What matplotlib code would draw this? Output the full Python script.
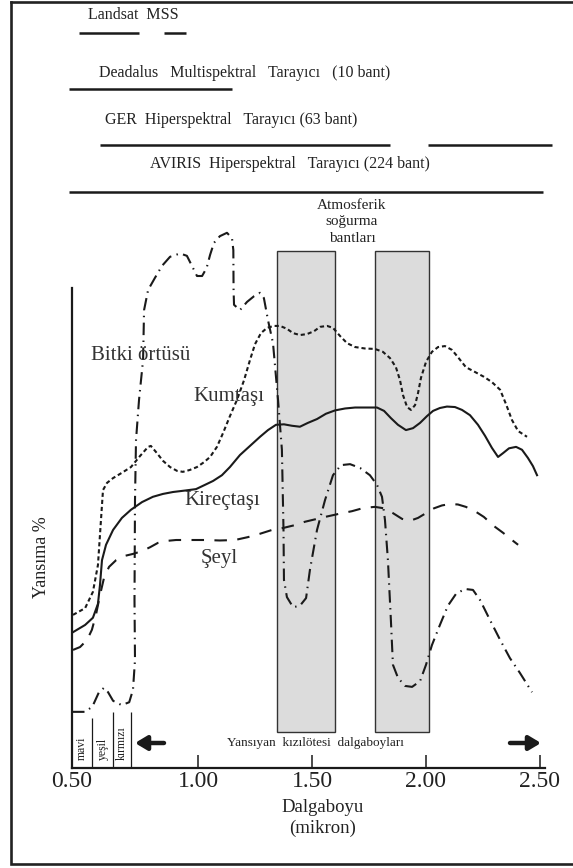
import matplotlib
matplotlib.use("Agg")
import matplotlib.pyplot as plt
import matplotlib.transforms as mtransforms
import numpy as np

plt.rcParams['font.family'] = ['Liberation Serif', 'DejaVu Serif']

# ---- data (wavelength in micron, reflectance in arbitrary %) ----
veg_wl = [0.500, 0.552, 0.581, 0.607, 0.627, 0.643, 0.663, 0.697, 0.727, 0.742,
          0.750, 0.748, 0.750, 0.754, 0.766, 0.782, 0.786, 0.802, 0.829, 0.857,
          0.889, 0.929, 0.956, 0.976, 0.996, 1.018, 1.038, 1.053, 1.070, 1.096,
          1.127, 1.149, 1.155, 1.156, 1.158, 1.184, 1.215, 1.246, 1.272, 1.289,
          1.307, 1.329, 1.351, 1.368, 1.375, 1.377, 1.390, 1.417, 1.447, 1.474,
          1.491, 1.522, 1.557, 1.592, 1.627, 1.667, 1.711, 1.754, 1.785, 1.807,
          1.820, 1.833, 1.846, 1.855, 1.877, 1.908, 1.939, 1.974, 2.000, 2.026,
          2.061, 2.096, 2.132, 2.171, 2.206, 2.237, 2.281, 2.325, 2.368, 2.412,
          2.465]
veg_r = [11.7, 11.7, 12.8, 15.8, 16.7, 15.8, 14.0, 13.1, 13.7, 16.3,
         22.5, 35.0, 55.8, 68.3, 76.7, 85.0, 95.4, 99.6, 102.1, 104.6,
         106.5, 107.2, 106.7, 104.6, 102.5, 102.5, 104.2, 106.9, 109.4, 110.8,
         111.5, 110.4, 107.9, 99.6, 96.5, 95.4, 97.1, 98.3, 99.0, 97.9,
         93.3, 88.5, 76.7, 66.3, 49.6, 39.2, 35.6, 33.5, 33.8, 35.4,
         41.3, 49.6, 55.8, 61.0, 63.1, 63.3, 62.5, 61.0, 59.0, 56.5,
         51.7, 43.3, 30.8, 21.5, 18.8, 17.1, 16.9, 18.1, 21.5, 25.6,
         29.8, 33.8, 36.3, 37.3, 37.1, 35.0, 30.8, 26.7, 22.9, 19.8,
         15.8]

sand_wl = [0.504, 0.552, 0.583, 0.603, 0.615, 0.623, 0.639, 0.663, 0.698, 0.734,
           0.770, 0.802, 0.813, 0.837, 0.861, 0.889, 0.917, 0.940, 0.968, 0.996,
           1.026, 1.053, 1.083, 1.110, 1.140, 1.171, 1.202, 1.228, 1.250, 1.276,
           1.303, 1.333, 1.360, 1.390, 1.417, 1.447, 1.478, 1.509, 1.535, 1.566,
           1.592, 1.623, 1.654, 1.689, 1.732, 1.776, 1.811, 1.842, 1.868, 1.886,
           1.899, 1.917, 1.934, 1.952, 1.965, 1.978, 2.000, 2.026, 2.053, 2.083,
           2.114, 2.140, 2.175, 2.215, 2.254, 2.289, 2.325, 2.351, 2.377, 2.404,
           2.443]
sand_r = [31.9, 33.3, 36.7, 42.3, 51.7, 57.9, 59.4, 60.4, 61.5, 62.7,
          65.0, 66.9, 67.1, 65.6, 64.0, 62.7, 61.9, 61.7, 62.1, 62.7,
          63.7, 64.8, 66.9, 69.8, 73.3, 76.7, 80.8, 85.0, 88.3, 90.6,
          91.7, 92.1, 92.1, 91.5, 90.6, 90.2, 90.4, 91.0, 91.9, 92.1,
          91.7, 90.0, 88.5, 87.7, 87.4, 87.3, 86.7, 85.4, 83.5, 80.8,
          77.7, 75.2, 74.6, 75.6, 78.1, 81.3, 84.6, 86.7, 87.7, 87.9,
          87.1, 85.6, 83.5, 82.5, 81.5, 80.4, 78.8, 75.8, 72.5, 70.2,
          69.0]

lime_wl = [0.504, 0.552, 0.583, 0.603, 0.611, 0.619, 0.635, 0.663, 0.698, 0.734,
           0.778, 0.821, 0.861, 0.901, 0.948, 0.992, 1.031, 1.066, 1.105, 1.140,
           1.184, 1.228, 1.272, 1.307, 1.342, 1.377, 1.412, 1.447, 1.482, 1.522,
           1.561, 1.601, 1.645, 1.689, 1.737, 1.785, 1.816, 1.846, 1.877, 1.912,
           1.943, 1.974, 2.004, 2.031, 2.061, 2.092, 2.127, 2.158, 2.193, 2.228,
           2.259, 2.289, 2.316, 2.338, 2.364, 2.395, 2.421, 2.447, 2.469, 2.487]
lime_r = [28.3, 29.8, 31.3, 34.2, 38.1, 43.3, 46.5, 49.6, 52.1, 53.8,
          55.4, 56.5, 57.1, 57.5, 57.8, 58.1, 59.0, 59.8, 61.0, 62.7,
          65.2, 67.1, 69.0, 70.4, 71.5, 71.6, 71.3, 71.1, 71.9, 72.7,
          73.8, 74.5, 74.9, 75.1, 75.1, 75.1, 74.4, 72.9, 71.5, 70.4,
          70.8, 71.9, 73.3, 74.4, 75.0, 75.3, 75.2, 74.6, 73.5, 71.5,
          69.2, 66.7, 64.8, 65.6, 66.6, 66.9, 66.3, 64.6, 62.9, 61.0]

shale_wl = [0.504, 0.532, 0.560, 0.579, 0.595, 0.611, 0.627, 0.647, 0.675, 0.710,
            0.742, 0.778, 0.810, 0.841, 0.873, 0.913, 0.968, 1.031, 1.096, 1.162,
            1.219, 1.272, 1.325, 1.373, 1.425, 1.469, 1.513, 1.566, 1.623, 1.675,
            1.728, 1.776, 1.816, 1.855, 1.895, 1.930, 1.965, 2.000, 2.035, 2.070,
            2.105, 2.140, 2.175, 2.215, 2.254, 2.298, 2.338, 2.377, 2.404]
shale_r = [24.6, 25.2, 26.7, 28.8, 31.9, 36.0, 39.6, 41.9, 43.3, 44.2,
           44.6, 45.2, 46.0, 46.9, 47.3, 47.5, 47.5, 47.5, 47.4, 47.5,
           48.1, 48.8, 49.6, 50.0, 50.6, 51.3, 51.8, 52.4, 53.0, 53.5,
           54.2, 54.4, 54.1, 53.1, 51.9, 51.5, 52.1, 53.1, 54.1, 54.7,
           55.0, 54.9, 54.4, 53.5, 52.3, 50.4, 49.0, 47.5, 46.5]

absorb_lo = [1.345, 1.776]
absorb_hi = [1.601, 2.014]

vis_edges = [0.579, 0.663, 0.734]
vis_names = ['mavi', 'yeşil', 'kırmızı']

sensor_names = ['Landsat  MSS',
                'Deadalus   Multispektral   Tarayıcı   (10 bant)',
                'GER  Hiperspektral   Tarayıcı (63 bant)',
                'AVIRIS  Hiperspektral   Tarayıcı (224 bant)']
sensor_ranges = [[(0.526, 0.765), (0.864, 0.954)],
                 [(0.487, 1.149)],
                 [(0.613, 1.843), (2.007, 2.552)],
                 [(0.490, 2.511)]]

xtick_vals = [0.5, 1.0, 1.5, 2.0, 2.5]
xtick_labels = ['0.50', '1.00', '1.50', '2.00', '2.50']


# the drawn wavelength axis is not uniform: 0.5-1.0 is stretched
def fwd(w):
    w = np.asarray(w, dtype=float)
    return np.where(w < 1.0, 72 + (w - 0.5) * 252, 198 + (w - 1.0) * 228)


def inv(p):
    p = np.asarray(p, dtype=float)
    return np.where(p < 198, 0.5 + (p - 72) / 252, 1.0 + (p - 198) / 228)


W, H = 573, 868
ink = '#1a1a1a'

fig = plt.figure(figsize=(W / 100, H / 100), dpi=100)
fig.patch.set_facecolor('white')

ax = fig.add_axes([0, 0, 1, 1])
ax.set_xscale('function', functions=(fwd, inv))
ax.patch.set_visible(False)

# overlay in pixel units for frame and free text
ov = fig.add_axes([0, 0, 1, 1], zorder=3)
ov.set_xlim(0, W)
ov.set_ylim(H, 0)
ov.axis('off')
ov.patch.set_visible(False)

# absorption bands
for lo, hi in zip(absorb_lo, absorb_hi):
    ax.bar(lo, 100.2, width=hi - lo, bottom=7.6, align='edge',
           color='#dcdcdc', edgecolor='#333333', linewidth=1.0, zorder=1)

# spectra
ax.plot(veg_wl, veg_r, color=ink, lw=1.5, ls=(0, (6.0, 2.6, 0.7, 2.6)), zorder=3)
ax.plot(sand_wl, sand_r, color=ink, lw=1.5, ls=(0, (2.0, 1.4)), zorder=3)
ax.plot(lime_wl, lime_r, color=ink, lw=1.5, zorder=3)
ax.plot(shale_wl, shale_r, color=ink, lw=1.5, ls=(0, (6.0, 5.0)), zorder=3)

# visible region boxes
vis_tops = [10.4, 11.7, 11.7]
ax.vlines(vis_edges, 0, vis_tops, color=ink, lw=0.9, zorder=2)
box_l = [0.5] + vis_edges[:-1]
for name, l, r in zip(vis_names, box_l, vis_edges):
    mid = inv((fwd(l) + fwd(r)) / 2)
    ax.text(mid, 1.6, name, rotation=90, ha='center', va='bottom',
            fontsize=8.5, color='#222222')

# axes lines
for s in ['top', 'right']:
    ax.spines[s].set_visible(False)
ax.spines['left'].set_position(('data', 0.5))
ax.spines['left'].set_bounds(0, 100)
ax.spines['bottom'].set_position(('data', 0))
ax.spines['bottom'].set_bounds(0.5, 2.52)
for s in ['left', 'bottom']:
    ax.spines[s].set_linewidth(1.6)
    ax.spines[s].set_color(ink)
ax.set_yticks([])
ax.set_xticks(xtick_vals)
ax.set_xticklabels(xtick_labels)
ax.tick_params(axis='x', direction='in', length=9.5, width=1.1, color=ink,
               labelsize=17, pad=2, labelcolor='#222222')

ax.set_xlim(float(inv(0)), float(inv(W)))
ax.set_ylim((768 - H) / 4.8, 768 / 4.8)

# sensor coverage bars (x in micron, y in pixel rows)
trans = mtransforms.blended_transform_factory(ax.transData, ov.transData)
bar_rows = [32.7, 89.3, 145, 192.3]
text_rows = [15, 73, 120, 164]
text_left = [88.5, 98.6, 105, 150]
for name, ranges, by, ty, tx in zip(sensor_names, sensor_ranges, bar_rows,
                                    text_rows, text_left):
    for a, b in ranges:
        ax.plot([a, b], [by, by], color=ink, lw=1.8, transform=trans,
                solid_capstyle='butt', clip_on=False)
    ov.text(tx, ty, name, ha='left', va='center', fontsize=11.5, color='#222222')

# labels
ov.text(352, 222, 'Atmosferik\nsoğurma\nbantları', ha='center', va='center',
        fontsize=11, linespacing=1.35, color='#222222')
ov.text(141, 355, 'Bitki örtüsü', ha='center', va='center', fontsize=15, color='#333333')
ov.text(229, 397, 'Kumtaşı', ha='center', va='center', fontsize=15, color='#333333')
ov.text(222, 500, 'Kireçtaşı', ha='center', va='center', fontsize=15, color='#333333')
ov.text(219, 558, 'Şeyl', ha='center', va='center', fontsize=15, color='#333333')
ov.text(41, 557, 'Yansıma %', ha='center', va='center', rotation=90,
        fontsize=13, color='#222222')
ov.text(315, 743, 'Yansıyan  kızılötesi  dalgaboyları', ha='center', va='center',
        fontsize=9.5, color='#222222')
ov.text(323, 818, 'Dalgaboyu\n(mikron)', ha='center', va='center',
        fontsize=13.5, linespacing=1.25, color='#222222')

arrow = dict(arrowstyle='-|>,head_length=0.5,head_width=0.3', lw=3.2,
             color=ink, shrinkA=0, shrinkB=0, mutation_scale=14)
ov.annotate('', xy=(135, 743), xytext=(164, 743), arrowprops=arrow)
ov.annotate('', xy=(541, 743), xytext=(510, 743), arrowprops=arrow)

# picture frame
ov.plot([10.5, 10.5, 573], [1.5, 864, 864], color='#222222', lw=1.9,
        solid_joinstyle='miter')
ov.plot([10.5, 573], [1.5, 1.5], color='#222222', lw=1.9)

fig.savefig('out.png', dpi=100)
